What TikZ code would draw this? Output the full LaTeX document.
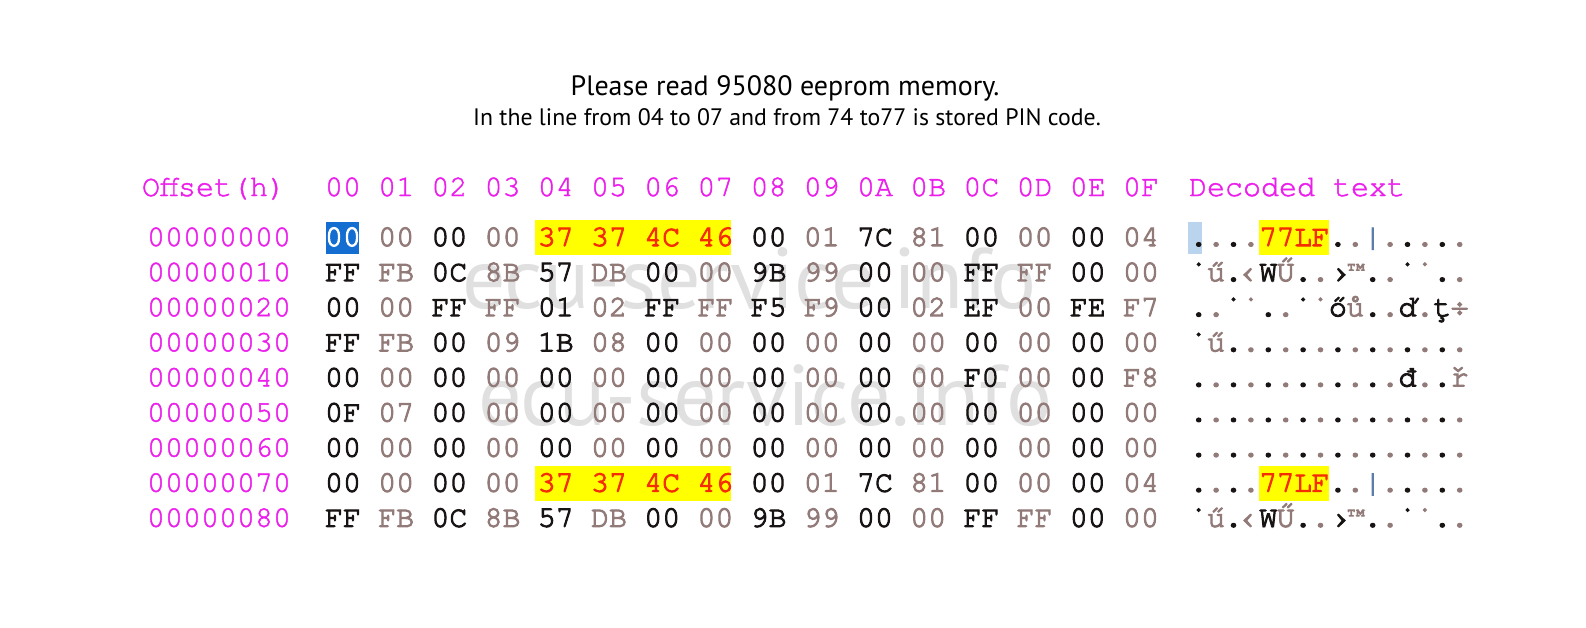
\documentclass[tikz,border=0pt]{standalone}
\usepackage{fontspec}
\setmainfont{PT Sans}
\newfontfamily\hexfont[FakeBold=3.5]{TeX Gyre Cursor}
\newfontfamily\hdrfont[FakeBold=1.5]{TeX Gyre Cursor}
\definecolor{hexblack}{RGB}{25,20,20}
\definecolor{hexgray}{RGB}{145,122,120}
\definecolor{hexmag}{RGB}{236,30,236}
\definecolor{pinred}{RGB}{245,45,0}
\definecolor{pinyellow}{RGB}{255,255,0}
\definecolor{selblue}{RGB}{20,110,210}
\definecolor{selpale}{RGB}{185,212,236}
\definecolor{wmgray}{RGB}{224,224,224}
\definecolor{barblue}{RGB}{90,125,170}
\begin{document}
\begin{tikzpicture}[x=0.5pt,y=-0.5pt,
  every node/.style={inner sep=0pt,outer sep=0pt},
  mono/.style={font=\hexfont\fontsize{15}{15}\selectfont},
  monohdr/.style={font=\hdrfont\fontsize{15}{15}\selectfont},
  hexcell/.style={mono,anchor=base},
  hdr/.style={monohdr,text=hexmag,anchor=base},
  offlab/.style={monohdr,text=hexmag,anchor=base west},
  watermark/.style={font=\fontsize{43}{43}\selectfont,text=wmgray,anchor=base west},
  titlemain/.style={font=\fontsize{14}{16}\selectfont,anchor=base},
  titlesub/.style={font=\fontsize{11.9}{13}\selectfont,anchor=base},
  pinmark/.style={fill=pinyellow},
]
\fill[white] (0,0) rectangle (1586,627);
\useasboundingbox (0,0) rectangle (1586,627);

% titles
\node[titlemain] (t1) at (785,95) {Please read 95080 eeprom memory.};
\node[titlesub] (t2) at (787,125) {In the line from 04 to 07 and from 74 to77 is stored PIN code.};

% watermark
\node[watermark] (wm1) at (462,308) {ecu-service.info};
\node[watermark] (wm2) at (478,425) {ecu-service.info};

% highlights
\fill[pinmark] (535,220) rectangle (731,255);
\fill[pinmark] (535,465.7) rectangle (731,500.7);
\fill[pinmark] (1259,220) rectangle (1329,255);
\fill[pinmark] (1259,465.7) rectangle (1329,500.7);
\fill[selblue] (326,222) rectangle (359,254);
\fill[selpale] (1188,222) rectangle (1202,254);

% header
\node[offlab] (hoff) at (142,196) {Offset(h)};
\foreach \lab [count=\c from 0] in {00,01,02,03,04,05,06,07,08,09,0A,0B,0C,0D,0E,0F}{
  \node[hdr] (hc\c) at ({343+53.2*\c},196) {\lab};
}
\node[offlab] (hdec) at (1189,196) {Decoded text};

% offsets
\foreach \lab [count=\r from 0] in {00000000,00000010,00000020,00000030,00000040,00000050,00000060,00000070,00000080}{
  \node[offlab] (off\r) at (147,{246+35.1*\r}) {\lab};
}

% hex cells
\foreach \row/\data in {
  0/{00,00,00,00,37,37,4C,46,00,01,7C,81,00,00,00,04},
  1/{FF,FB,0C,8B,57,DB,00,00,9B,99,00,00,FF,FF,00,00},
  2/{00,00,FF,FF,01,02,FF,FF,F5,F9,00,02,EF,00,FE,F7},
  3/{FF,FB,00,09,1B,08,00,00,00,00,00,00,00,00,00,00},
  4/{00,00,00,00,00,00,00,00,00,00,00,00,F0,00,00,F8},
  5/{0F,07,00,00,00,00,00,00,00,00,00,00,00,00,00,00},
  6/{00,00,00,00,00,00,00,00,00,00,00,00,00,00,00,00},
  7/{00,00,00,00,37,37,4C,46,00,01,7C,81,00,00,00,04},
  8/{FF,FB,0C,8B,57,DB,00,00,9B,99,00,00,FF,FF,00,00}}{
  \foreach \v [count=\c from 0] in \data {
    \pgfmathtruncatemacro\odd{mod(\c,2)}
    \pgfmathtruncatemacro\isred{and(or(\row==0,\row==7),and(\c>3,\c<8))}
    \pgfmathtruncatemacro\issel{and(\row==0,\c==0)}
    \ifnum\isred=1 \def\cc{pinred}\else\ifnum\issel=1 \def\cc{white}\else\ifnum\odd=1 \def\cc{hexgray}\else\def\cc{hexblack}\fi\fi\fi
    \node[hexcell,text=\cc] (h\row-\c) at ({343+53.2*\c},{246+35.1*\row}) {\v};
  }
}

% decoded text
\foreach \row/\data in {
  0/{.,.,.,.,7,7,L,F,.,.,|,.,.,.,.,.},
  1/{˙,ű,.,‹,W,Ű,.,.,›,™,.,.,˙,˙,.,.},
  2/{.,.,˙,˙,.,.,˙,˙,ő,ů,.,.,ď,.,ţ,÷},
  3/{˙,ű,.,.,.,.,.,.,.,.,.,.,.,.,.,.},
  4/{.,.,.,.,.,.,.,.,.,.,.,.,đ,.,.,ř},
  5/{.,.,.,.,.,.,.,.,.,.,.,.,.,.,.,.},
  6/{.,.,.,.,.,.,.,.,.,.,.,.,.,.,.,.},
  7/{.,.,.,.,7,7,L,F,.,.,|,.,.,.,.,.},
  8/{˙,ű,.,‹,W,Ű,.,.,›,™,.,.,˙,˙,.,.}}{
  \foreach \v [count=\c from 0] in \data {
    \pgfmathtruncatemacro\odd{mod(\c,2)}
    \pgfmathtruncatemacro\isred{and(or(\row==0,\row==7),and(\c>3,\c<8))}
    \pgfmathtruncatemacro\isbar{and(or(\row==0,\row==7),\c==10)}
    \ifnum\isred=1 \def\cc{pinred}\else\ifnum\isbar=1 \def\cc{barblue}\else\ifnum\odd=1 \def\cc{hexgray}\else\def\cc{hexblack}\fi\fi\fi
    \node[hexcell,text=\cc] (d\row-\c) at ({1198.7+17.4*\c},{246+35.1*\row}) {\v};
  }
}
\end{tikzpicture}
\end{document}
